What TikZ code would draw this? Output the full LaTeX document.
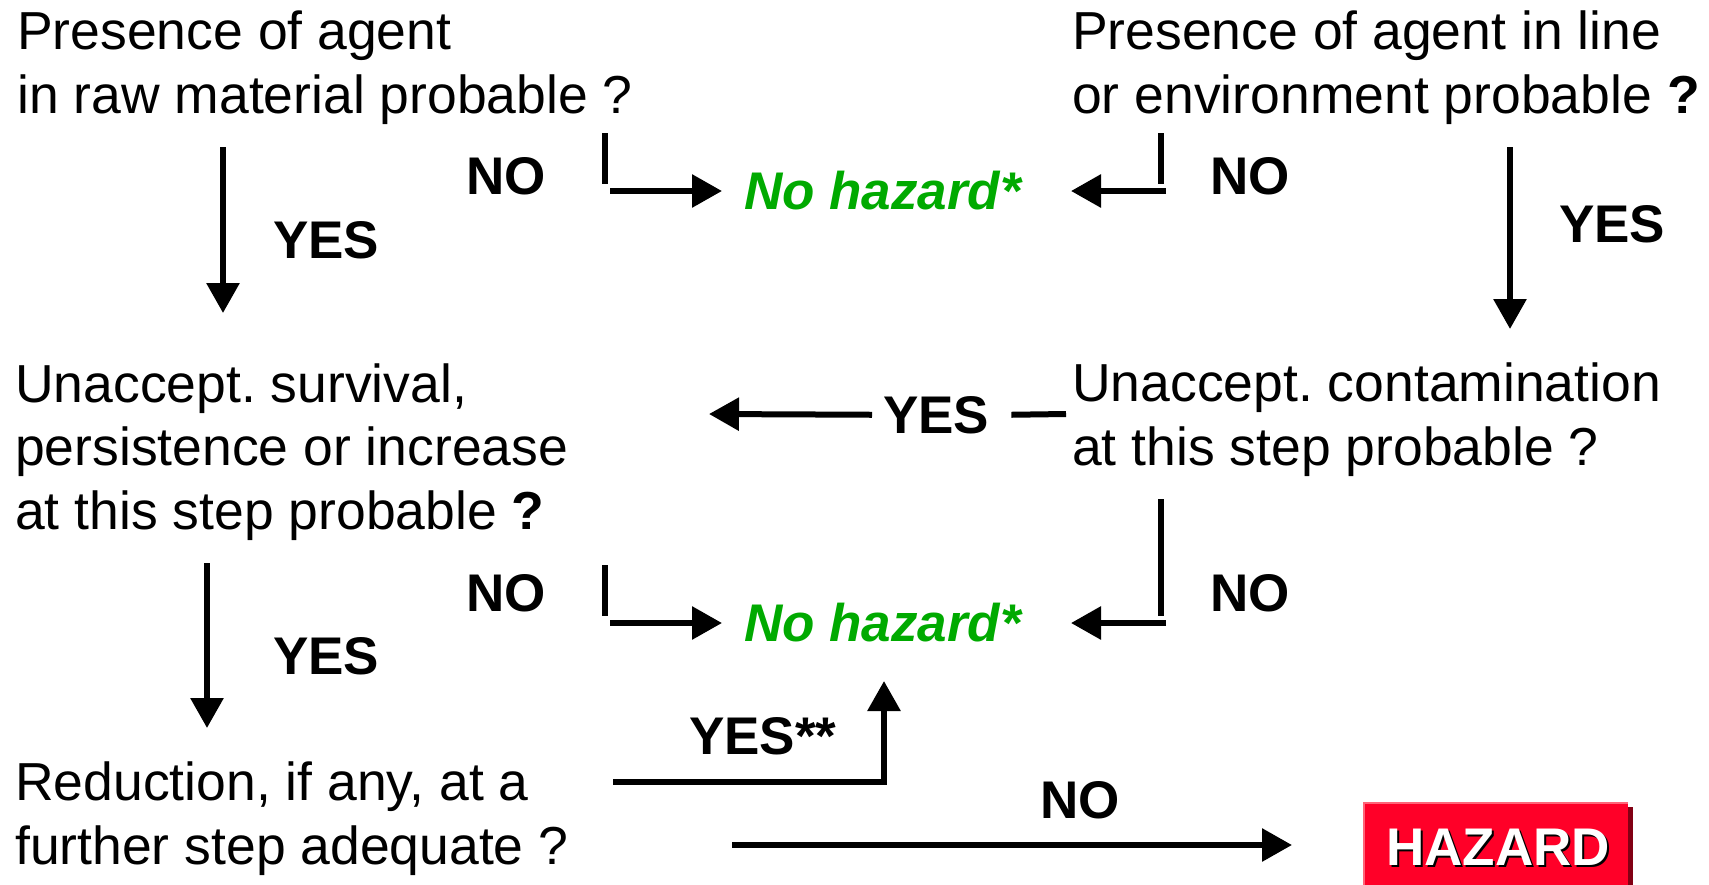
\documentclass[tikz,border=0pt]{standalone}
\usepackage{fontspec}
\setmainfont{Liberation Sans}
\usetikzlibrary{arrows.meta}
\definecolor{nhgreen}{RGB}{0,170,0}
\definecolor{hzred}{RGB}{255,0,40}
\definecolor{hzdark}{RGB}{130,0,20}
\definecolor{hzlight}{RGB}{255,100,120}
\frenchspacing
\begin{document}
\begin{tikzpicture}[x=1pt,y=-1pt,
  txt/.style={anchor=base west, inner sep=0pt, align=left, font=\fontsize{53.5}{63.5}\selectfont},
  lbl/.style={anchor=base west, inner sep=0pt, font=\fontsize{53}{63.5}\selectfont\bfseries},
  nohaz/.style={anchor=base west, inner sep=0pt, text=nhgreen, font=\fontsize{53}{63.5}\selectfont\bfseries\itshape},
  hztext/.style={anchor=base, inner sep=0pt, font=\fontsize{53}{63.5}\selectfont\bfseries},
  conn/.style={line width=6pt},
  arr/.style={conn, -{Triangle[length=30pt,width=32pt]}},
]
\useasboundingbox (0,0) rectangle (1709,884);
\fill[white] (0,0) rectangle (1709,884);
\clip (0,0) rectangle (1709,884);

% question texts (anchored at the baseline of their last line)
\node[txt] (q1) at (17,113) {Presence of agent\\in raw material probable ?};
\node[txt] (q2) at (1072,113) {Presence of agent in line\\or environment probable \textbf{?}};
\node[txt] (q3) at (15,529) {Unaccept. survival,\\persistence or increase\\at this step probable \textbf{?}};
\node[txt] (q4) at (1072,465) {Unaccept. contamination\\at this step probable ?};
\node[txt] (q5) at (15,864) {Reduction, if any, at a\\further step adequate ?};

% outcomes
\node[nohaz] (nh1) at (744,209) {No hazard*};
\node[nohaz] (nh2) at (744,641) {No hazard*};
\fill[hzdark] (1368,807) rectangle (1633,900);
\fill[hzred] (1363,802) rectangle (1628,900);
\draw[hzlight, line width=2pt] (1364,900) -- (1364,803) -- (1628,803);
\node[hztext, text=black] (hzs) at (1500,867) {HAZARD};
\node[hztext, text=white] (hz) at (1498,865) {HAZARD};

% labels
\node[lbl] (no1) at (466,194) {NO};
\node[lbl] (no2) at (1210,194) {NO};
\node[lbl] (yes1) at (273,258) {YES};
\node[lbl] (yes2) at (1559,242) {YES};
\node[lbl] (ymid) at (883,433) {YES};
\node[lbl] (no3) at (466,611) {NO};
\node[lbl] (no4) at (1210,611) {NO};
\node[lbl] (yes3) at (273,674) {YES};
\node[lbl] (yes4) at (689,754) {YES**};
\node[lbl] (no5) at (1040,818) {NO};

% connector end points
\coordinate (a1s) at (223,147);  \coordinate (a1e) at (223,313);
\coordinate (a2s) at (1510,147); \coordinate (a2e) at (1510,329);
\coordinate (b1s) at (605,133);  \coordinate (b1e) at (722,191);
\coordinate (b2s) at (1161,133); \coordinate (b2e) at (1071,191);
\coordinate (m4) at (1066,414);  \coordinate (m3) at (709,414);
\coordinate (c1s) at (605,565);  \coordinate (c1e) at (722,623);
\coordinate (c2s) at (1161,499); \coordinate (c2e) at (1071,623);
\coordinate (a3s) at (207,563);  \coordinate (a3e) at (207,728);
\coordinate (d1s) at (613,782);  \coordinate (d1e) at (884,681);
\coordinate (e1s) at (732,845);  \coordinate (e1e) at (1292,845);

% connectors (the NO elbows have a small open corner, as drawn in the reference)
\draw[arr] (a1s) -- (a1e);
\draw[arr] (a2s) -- (a2e);
\draw[arr] (b1s) -- ++(0,51) ++(5,7) -- (b1e);
\draw[arr] (b2s) -- ++(0,51) ++(5,7) -- (b2e);
\draw[conn] (m4) -- ([xshift=22pt]ymid.east);
\draw[arr] ([xshift=-11pt]ymid.west) -- (m3);
\draw[arr] (c1s) -- ++(0,51) ++(5,7) -- (c1e);
\draw[arr] (c2s) -- ++(0,117) ++(5,7) -- (c2e);
\draw[arr] (a3s) -- (a3e);
\draw[arr] (d1s) -| (d1e);
\draw[arr] (e1s) -- (e1e);
\end{tikzpicture}
\end{document}
